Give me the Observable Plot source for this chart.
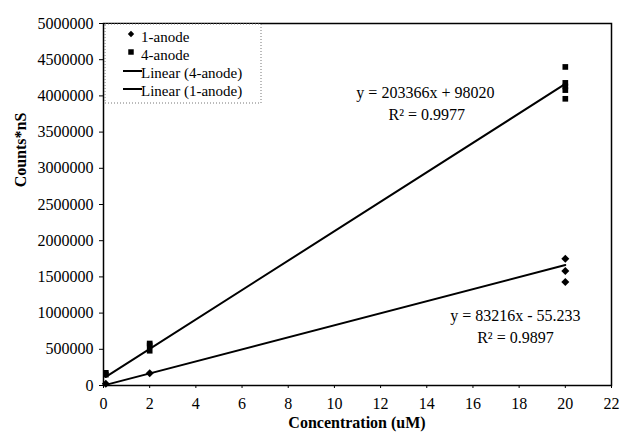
<!DOCTYPE html>
<html>
<head>
<meta charset="utf-8">
<script src="https://cdn.jsdelivr.net/npm/d3@7"></script>
<script src="https://cdn.jsdelivr.net/npm/@observablehq/plot@0.6"></script>
<style>
  html, body { margin: 0; padding: 0; background: #fff; }
</style>
</head>
<body>
<div id="chart"></div>
<script>
// ---- data ----
const conc4 = [0.1, 0.1, 2, 2, 2, 20, 20, 20, 20, 20];
const counts4 = [150000, 175000, 480000, 555000, 580000, 4400000, 4180000, 4130000, 4080000, 3960000];
const conc1 = [0.1, 2, 20, 20, 20];
const counts1 = [25000, 170000, 1750000, 1580000, 1430000];

const fitNames = ["4-anode", "1-anode"];
const fitSlopes = [203366, 83216];
const fitIntercepts = [98020, -55.233];
const fitR2 = ["0.9977", "0.9897"];
const fitRange = [0.1, 20];

const xTicks = [0, 2, 4, 6, 8, 10, 12, 14, 16, 18, 20, 22];
const yTicks = [0, 500000, 1000000, 1500000, 2000000, 2500000, 3000000, 3500000, 4000000, 4500000, 5000000];
const legendLabels = ["1-anode", "4-anode", "Linear (4-anode)", "Linear (1-anode)"];
const xTitle = "Concentration (uM)";
const yTitle = "Counts*nS";

// ---- tables built from arrays ----
const pts4 = conc4.map((x, i) => ({x, y: counts4[i]}));
const pts1 = conc1.map((x, i) => ({x, y: counts1[i]}));
const fitLines = fitNames.flatMap((name, i) =>
  fitRange.map(x => ({series: name, x, y: fitSlopes[i] * x + fitIntercepts[i]})));

const eq1 = `y = ${fitSlopes[0]}x + ${fitIntercepts[0]}`;
const eq2 = `y = ${fitSlopes[1]}x - ${Math.abs(fitIntercepts[1])}`;

const FONT = "'Liberation Serif', 'DejaVu Serif', serif";

const plot = Plot.plot({
  width: 623,
  height: 439,
  marginLeft: 103,
  marginRight: 12,
  marginTop: 23,
  marginBottom: 54,
  style: {fontFamily: FONT, fontSize: "16px", background: "#fff", color: "#000"},
  x: {domain: [0, 22]},
  y: {domain: [0, 5000000]},
  marks: [
    Plot.frame({stroke: "#000", strokeWidth: 1.5}),
    Plot.axisX({ticks: xTicks, tickSize: 3, tickPadding: 9, label: null, tickFormat: d => String(d)}),
    Plot.axisY({ticks: yTicks, tickSize: 4, tickPadding: 6, label: null, tickFormat: d => d3.format("d")(d)}),
    Plot.line(fitLines, {x: "x", y: "y", z: "series", stroke: "#000", strokeWidth: 2}),
    Plot.dot(pts4, {x: "x", y: "y", symbol: "square", r: 3.2, fill: "#000", stroke: "none"}),
    Plot.dot(pts1, {x: "x", y: "y", symbol: "diamond2", r: 3.6, fill: "#000", stroke: "none"}),
    Plot.text([eq1], {x: 13.94, y: 4036000, text: d => d, fontSize: 16, textAnchor: "middle"}),
    Plot.text([`R² = ${fitR2[0]}`], {x: 14.0, y: 3733000, text: d => d, fontSize: 16, textAnchor: "middle"}),
    Plot.text([eq2], {x: 17.84, y: 964000, text: d => d, fontSize: 16, textAnchor: "middle"}),
    Plot.text([`R² = ${fitR2[1]}`], {x: 17.84, y: 661000, text: d => d, fontSize: 16, textAnchor: "middle"})
  ]
});

const svg = d3.select(plot);

// ---- axis titles ----
svg.append("text").attr("x", 357).attr("y", 428)
  .attr("text-anchor", "middle").attr("font-family", FONT).attr("font-size", 16).attr("font-weight", "bold")
  .text(xTitle);
svg.append("text").attr("transform", "translate(26,150) rotate(-90)")
  .attr("text-anchor", "middle").attr("font-family", FONT).attr("font-size", 16).attr("font-weight", "bold")
  .text(yTitle);

// ---- legend ----
const lg = svg.append("g").attr("font-family", FONT).attr("font-size", 15).attr("text-anchor", "start");
lg.append("rect").attr("x", 105).attr("y", 24).attr("width", 156).attr("height", 79)
  .attr("fill", "#fff").attr("stroke", "#777").attr("stroke-width", 1).attr("stroke-dasharray", "1,2");
const rowY = [37, 55, 73, 91];
legendLabels.forEach((lab, i) => {
  const y = rowY[i];
  if (i === 0) {
    lg.append("path").attr("d", d3.symbol(d3.symbolDiamond2, 26)()).attr("transform", `translate(131,${y - 3})`).attr("fill", "#000");
  } else if (i === 1) {
    lg.append("path").attr("d", d3.symbol(d3.symbolSquare, 30)()).attr("transform", `translate(131,${y - 3})`).attr("fill", "#000");
  } else {
    lg.append("line").attr("x1", 123).attr("x2", 142).attr("y1", y - 2).attr("y2", y - 2).attr("stroke", "#000").attr("stroke-width", 2);
  }
  lg.append("text").attr("x", 141).attr("y", y).attr("dy", "0.35em").attr("text-anchor", "start").text(lab);
});

document.getElementById("chart").appendChild(plot);
</script>
</body>
</html>
